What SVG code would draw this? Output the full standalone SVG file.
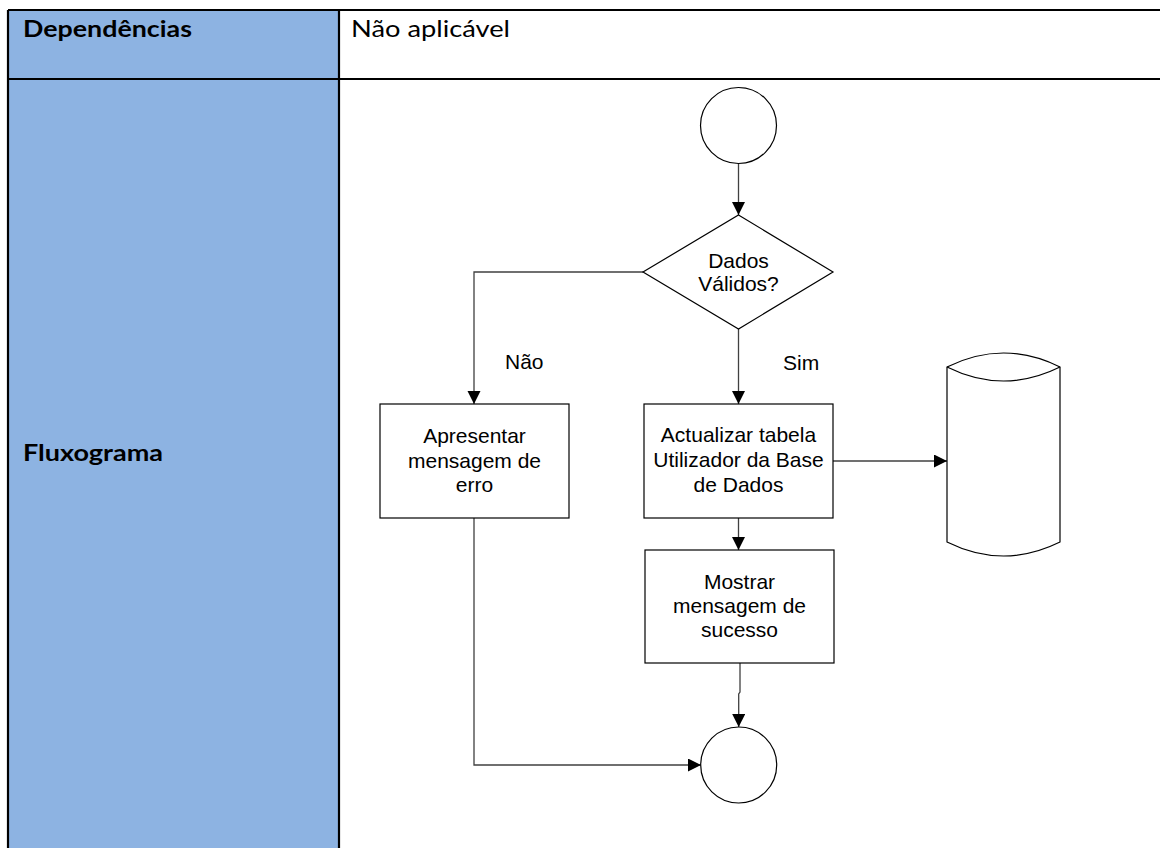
<svg xmlns="http://www.w3.org/2000/svg" width="1160" height="848" viewBox="0 0 1160 848">
<style>
.cell{font-family:Lato,"Liberation Sans",sans-serif;font-size:23.5px;fill:#000}
.b{font-weight:bold}
.t{font-family:"Liberation Sans",Arial,sans-serif;font-size:21px;fill:#000;text-anchor:middle}
.l{font-family:"Liberation Sans",Arial,sans-serif;font-size:21px;fill:#000}
.shape{fill:#fff;stroke:#000;stroke-width:1.2}
.conn{fill:none;stroke:#404040;stroke-width:1.3}
.grid{stroke:#000;stroke-width:2.2;fill:none}
</style>
<defs>
<marker id="arr" markerUnits="userSpaceOnUse" markerWidth="14" markerHeight="14" refX="13" refY="6.5" orient="auto">
<path d="M0,0 L13,6.5 L0,13 z" fill="#000"/>
</marker>
</defs>
<g id="table">
<rect x="8" y="10" width="331" height="838" fill="#8DB3E2"/>
<path class="grid" d="M8,10 H1160 M8,79 H1160 M8,10 V848 M339,10 V848"/>
<text class="cell b" x="23" y="37" textLength="169" lengthAdjust="spacingAndGlyphs">Dependências</text>
<text class="cell" x="351" y="37" textLength="159" lengthAdjust="spacingAndGlyphs">Não aplicável</text>
<text class="cell b" x="23" y="461" textLength="140" lengthAdjust="spacingAndGlyphs">Fluxograma</text>
</g>
<g id="connectors">
<path class="conn" d="M738.5,158 V215" marker-end="url(#arr)"/>
<path class="conn" d="M643,272 H474 V404" marker-end="url(#arr)"/>
<path class="conn" d="M738.5,329 V404" marker-end="url(#arr)"/>
<path class="conn" d="M833,461 H947" marker-end="url(#arr)"/>
<path class="conn" d="M738.5,518 V550" marker-end="url(#arr)"/>
<path class="conn" d="M740,663 V692 L738.7,694 V727" marker-end="url(#arr)"/>
<path class="conn" d="M474,518 V765 H701" marker-end="url(#arr)"/>
<text class="l" x="505" y="369">Não</text>
<text class="l" x="783" y="370">Sim</text>
</g>
<g id="start">
<circle class="shape" cx="738.5" cy="125.5" r="38"/>
</g>
<g id="decision">
<path class="shape" d="M738.5,215 L833,272 L738.5,329 L643,272 z"/>
<text class="t" x="738.5" y="268">Dados</text>
<text class="t" x="738.5" y="291">Válidos?</text>
</g>
<g id="error">
<rect class="shape" x="380" y="404" width="189" height="114"/>
<text class="t" x="474.5" y="443">Apresentar</text>
<text class="t" x="474.5" y="468">mensagem de</text>
<text class="t" x="474.5" y="492">erro</text>
</g>
<g id="update">
<rect class="shape" x="644" y="404" width="189" height="114"/>
<text class="t" x="738.5" y="442">Actualizar tabela</text>
<text class="t" x="738.5" y="467">Utilizador da Base</text>
<text class="t" x="738.5" y="492">de Dados</text>
</g>
<g id="success">
<rect class="shape" x="645" y="550" width="189" height="113"/>
<text class="t" x="739.5" y="589">Mostrar</text>
<text class="t" x="739.5" y="613">mensagem de</text>
<text class="t" x="739.5" y="637">sucesso</text>
</g>
<g id="database">
<path class="shape" d="M947,367 Q1003.5,339 1060,367 V542 Q1003.5,570 947,542 z"/>
<path class="shape" fill="none" d="M947,367 Q1003.5,395 1060,367"/>
</g>
<g id="end">
<circle class="shape" cx="738.7" cy="765" r="38"/>
</g>
</svg>
